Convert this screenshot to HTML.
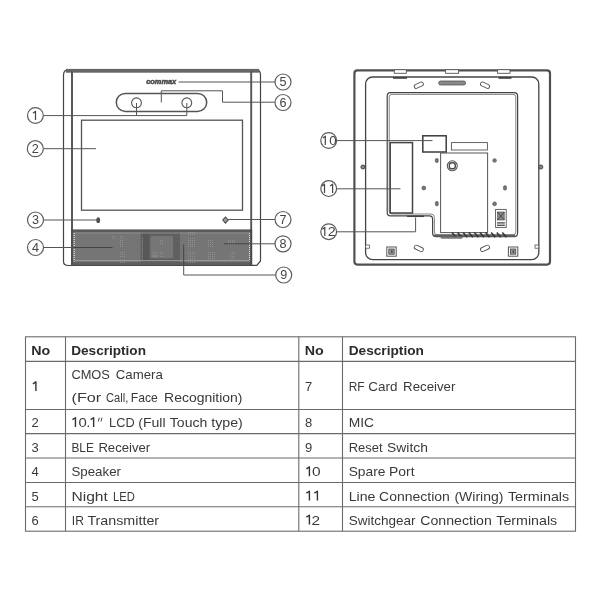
<!DOCTYPE html>
<html><head><meta charset="utf-8">
<style>
html,body{margin:0;padding:0;background:#fff;}
body{width:600px;height:600px;overflow:hidden;font-family:"Liberation Sans",sans-serif;}
svg{display:block;will-change:transform;opacity:.999;}
text{font-family:"Liberation Sans",sans-serif;fill:#333;}
.l{stroke:#555;stroke-width:1;fill:none;}
.d{stroke:#444;stroke-width:1.2;fill:none;}
.lab circle{fill:#fff;stroke:#5c5c5c;stroke-width:1.2;}
.lab text{font-size:12.6px;fill:#444;text-anchor:middle;}
.t{font-size:13px;fill:#3a3a3a;}
.b{font-size:13px;font-weight:bold;fill:#2b2b2b;}
.g{stroke:#6b6b6b;stroke-width:1.1;fill:none;}
</style></head><body>
<svg width="600" height="600" viewBox="0 0 600 600">
<rect width="600" height="600" fill="#fff"/>

<!-- ================= FRONT VIEW ================= -->
<g id="front">
  <!-- outer body -->
  <path class="d" d="M63.500,75 Q63.500,69.6 69,69.6 L256,69.6 Q260.500,69.6 260.500,75 L260.500,261 L256.8,265.300 L68.500,265.500 Q63.500,265.500 63.500,261.500 Z"/>
  <!-- thick top bar -->
  <rect x="66" y="68.9" width="193" height="3.8" fill="#666"/>
  <!-- inner side lines -->
  <line class="d" x1="72" y1="71" x2="72" y2="265" style="stroke-width:2;stroke:#585858"/>
  <line class="d" x1="251.2" y1="71" x2="251.2" y2="265" style="stroke-width:1.9;stroke:#555"/>
  <!-- logo -->
  <text x="146.200" y="84.4" textLength="30" lengthAdjust="spacingAndGlyphs" style="font-size:6.8px;font-weight:bold;font-style:italic;fill:#4a4a4a;stroke:#4a4a4a;stroke-width:.5">commax</text>
  <!-- camera pill -->
  <rect class="d" x="116.3" y="93.4" width="90.4" height="18" rx="9" style="stroke-width:1.5;stroke:#555"/>
  <circle class="l" cx="136.500" cy="102.8" r="4.9" style="stroke-width:1.1"/>
  <circle class="l" cx="186.8" cy="102.8" r="4.9" style="stroke-width:1.1"/>
  <!-- LCD -->
  <rect class="l" x="81.5" y="120.2" width="161" height="90" style="stroke-width:1.3"/>
  <!-- BLE dot / RF diamond -->
  <ellipse cx="98.2" cy="220.2" rx="1.9" ry="2.9" fill="#505050"/>
  <path d="M225.500,217 L228.2,220 L225.500,223.2 L222.8,220 Z" fill="#9a9a9a" stroke="#4a4a4a" stroke-width="1.1"/>
  <!-- speaker grille -->
  <rect x="72" y="229.6" width="179.3" height="35.4" fill="#757575"/>
  <rect x="72" y="229.6" width="179.3" height="2.6" fill="#5a5a5a"/>
  <rect x="72" y="262.2" width="179.3" height="3" fill="#5e5e5e"/>
  <rect x="140.6" y="232" width="39.4" height="30.4" fill="#606060"/>
  <rect x="150.500" y="236" width="22.500" height="22.2" rx="1.5" fill="#767676"/><rect x="152" y="252.500" width="6" height="1" fill="#8a8a8a"/><rect x="152" y="255" width="6" height="2" fill="#858585"/>
  <rect x="143" y="233.6" width="6" height="27" fill="#585858"/>
  <line x1="74.2" y1="233" x2="74.2" y2="261.500" stroke="#f0f0f0" stroke-width="1.1" stroke-dasharray="1.1 0.9"/>
  <line x1="249.500" y1="233" x2="249.500" y2="261" stroke="#e4e4e4" stroke-width="1" stroke-dasharray="1.1 0.9"/>
  <line x1="75" y1="233" x2="249" y2="233" stroke="#909090" stroke-width="0.9"/>
  <line x1="75" y1="260.6" x2="249" y2="260.6" stroke="#a2a2a2" stroke-width="0.9"/>
  <!-- moire patches -->
  <defs><pattern id="dots" width="2" height="2" patternUnits="userSpaceOnUse"><rect width="1" height="1" fill="#a4a4a4"/></pattern></defs>
  <g fill="url(#dots)" opacity=".55">
    <rect x="120" y="236" width="4" height="12"/>
    <rect x="120" y="252" width="6" height="6"/>
    <rect x="112" y="236" width="4" height="4"/>
    <rect x="120" y="260" width="6" height="4"/>
    <rect x="188" y="232" width="8" height="4"/>
    <rect x="188" y="238" width="8" height="10"/>
    <rect x="188" y="252" width="8" height="8"/>
    <rect x="188" y="260" width="8" height="4"/>
    <rect x="208" y="240" width="6" height="8"/>
    <rect x="208" y="252" width="8" height="8"/>
    <rect x="228" y="240" width="8" height="6"/>
    <rect x="230" y="252" width="6" height="8"/>
    <rect x="160" y="240" width="4" height="6"/>
    <rect x="160" y="252" width="4" height="6"/>
    <rect x="142" y="238" width="2" height="22"/>
  </g>

  <line x1="72" y1="229" x2="72" y2="265" stroke="#4c4c4c" stroke-width="1.8"/>
  <line x1="251.2" y1="229" x2="251.2" y2="265" stroke="#484848" stroke-width="1.8"/>
  <!-- leader lines -->
  <polyline class="l" points="43.5,115.6 186.8,115.6 186.8,103"/>
  <line class="l" x1="136.500" y1="103" x2="136.500" y2="115.6"/>
  <line class="l" x1="43.5" y1="148.7" x2="96" y2="148.7"/>
  <line class="l" x1="43.5" y1="220" x2="97" y2="220"/>
  <line class="l" x1="43.5" y1="247.500" x2="73" y2="247.500"/><line class="l" x1="73" y1="247.500" x2="112.500" y2="247.500" style="stroke:#444"/>
  <line class="l" x1="178.500" y1="82" x2="275" y2="82"/>
  <polyline class="l" points="275,102.2 222.5,102.2 222.5,90.8 161.3,90.8 161.3,102.4"/>
  <line class="l" x1="228" y1="219.5" x2="275" y2="219.5"/>
  <line class="l" x1="250" y1="243.8" x2="275" y2="243.8"/><line class="l" x1="224" y1="243.8" x2="250" y2="243.8" style="stroke:#444"/>
  <polyline class="l" points="275.500,275 183.7,275 183.7,265"/><line class="l" x1="183.7" y1="265" x2="183.7" y2="244.500" style="stroke:#444"/>

  <!-- labels -->
  <g class="lab">
    <circle cx="35.4" cy="115.500" r="7.9"/><path d="M33.00,113.20 L35.50,111.35 V119.90" fill="none" stroke="#444" stroke-width="1.2" stroke-linejoin="round"/>
    <circle cx="35.3" cy="148.7" r="8"/><text x="35.3" y="152.8">2</text>
    <circle cx="35.5" cy="220" r="8"/><text x="35.5" y="224.1">3</text>
    <circle cx="35.5" cy="247.5" r="8"/><text x="35.5" y="251.6">4</text>
    <circle cx="283" cy="82" r="8"/><text x="283" y="86.1">5</text>
    <circle cx="283" cy="102.5" r="8"/><text x="283" y="106.6">6</text>
    <circle cx="283" cy="219.5" r="8"/><text x="283" y="223.6">7</text>
    <circle cx="283" cy="243.8" r="8"/><text x="283" y="247.9">8</text>
    <circle cx="283.7" cy="275" r="8"/><text x="283.7" y="279.1">9</text>
  </g>
</g>

<!-- ================= BACK VIEW ================= -->
<g id="back">
  <!-- outer body -->
  <rect class="d" x="354.4" y="70.4" width="195.6" height="194.2" rx="3" style="stroke-width:2.2;stroke:#505050"/>
  <!-- second frame -->
  <rect class="l" x="365.6" y="77" width="173.2" height="182.6" rx="7" style="stroke-width:1.3;stroke:#444"/>
  <!-- top tabs -->
  <g fill="#fff" stroke="#555" stroke-width="0.9">
    <rect x="394.3" y="69.7" width="12" height="3.6"/>
    <rect x="445.6" y="69.7" width="13" height="3.6"/>
    <rect x="497.6" y="69.7" width="12.4" height="3.6"/>
  </g>
  <rect x="393" y="77" width="14" height="1.8" fill="#444"/>
  <rect x="498.5" y="77" width="13" height="1.8" fill="#444"/>
  <!-- slot -->
  <rect x="438.6" y="81" width="27" height="4" rx="2" fill="#888" stroke="#555" stroke-width="0.8"/>
  <!-- oval holes -->
  <g fill="#fff" stroke="#555" stroke-width="0.9">
    <rect x="414" y="83.2" width="9.6" height="4" rx="2" transform="rotate(-25 418.8 85.2)"/>
    <rect x="480.2" y="83.2" width="9.6" height="4" rx="2" transform="rotate(25 485 85.2)"/>
    <rect x="414" y="246.4" width="9.6" height="4" rx="2" transform="rotate(25 418.8 248.4)"/>
    <rect x="480.2" y="246.4" width="9.6" height="4" rx="2" transform="rotate(-25 485 248.4)"/>
  </g>
  <!-- inner recess (double line) -->
  <path class="l" d="M387.2,96 Q387.2,92.6 390.6,92.6 L514,92.6 Q517.6,92.6 517.6,96 L517.6,233 Q517.6,236.6 514,236.6 L436,236.6 Q432.6,236.6 432.6,233 L432.6,219 Q432.6,215.8 429.5,215.8 L390.5,215.8 Q387.2,215.8 387.2,212.5 Z" style="stroke-width:1.2;stroke:#444"/>
  <path class="l" d="M389.2,97 Q389.2,94.4 392,94.4 L513,94.4 Q515.8,94.4 515.8,97 L515.8,232 Q515.8,234.8 513,234.8 L437,234.8 Q434.4,234.8 434.4,232 L434.4,217.6 Q434.4,214 431,214 L392,214 Q389.2,214 389.2,211 Z" style="stroke-width:0.9;stroke:#777"/>
  <!-- terminal block 11 -->
  <rect x="390.2" y="142.6" width="22.3" height="70.4" fill="#fff" stroke="#444" stroke-width="1.5"/>
  <line x1="407" y1="216.3" x2="424" y2="216.3" stroke="#444" stroke-width="1.5"/>
  <!-- box 10 -->
  <rect x="422.8" y="135.8" width="23.4" height="16.2" fill="#fff" stroke="#3c3c3c" stroke-width="1.5"/>
  <!-- small rect -->
  <rect class="l" x="451.4" y="142.6" width="36" height="7.4" style="stroke-width:0.9"/>
  <!-- main plate -->
  <rect x="440.6" y="153" width="47" height="79.6" fill="#fff" stroke="#555" stroke-width="1"/>
  <circle class="l" cx="452.3" cy="165.8" r="5" style="stroke-width:1.1"/>
  <rect class="l" x="449.3" y="162.8" width="6" height="6" rx="2.4" style="stroke-width:1.4;stroke:#4a4a4a"/>
  <!-- screws -->
  <g fill="#777" stroke="#555" stroke-width="0.7">
    <rect x="435.4" y="158.6" width="2.8" height="3.8" rx="1"/>
    <circle cx="494.6" cy="160.5" r="1.8"/>
    <circle cx="423.8" cy="188" r="1.9"/>
    <rect x="503.6" y="185.8" width="2.8" height="4.2" rx="1"/>
    <rect x="435.4" y="201.6" width="2.8" height="4.2" rx="1"/>
    <circle cx="494.6" cy="203.8" r="1.9"/>
    <circle cx="362.9" cy="167" r="2" fill="#8a8a8a" stroke="#444" stroke-width="1"/>
    <circle cx="540.8" cy="167" r="2" fill="#8a8a8a" stroke="#444" stroke-width="1"/>
  </g>
  <!-- sticker -->
  <rect x="495.6" y="209.4" width="10.6" height="18" fill="#fff" stroke="#555" stroke-width="0.9"/>
  <rect x="497.6" y="212" width="6.6" height="8" fill="#888" stroke="#444" stroke-width="0.6"/>
  <line x1="497.4" y1="212" x2="504.4" y2="220" stroke="#333" stroke-width="0.7"/>
  <line x1="504.4" y1="212" x2="497.4" y2="220" stroke="#333" stroke-width="0.7"/>
  <rect x="497" y="222.2" width="7.8" height="1.4" fill="#555"/>
  <rect x="497" y="224.6" width="7.8" height="1.4" fill="#555"/>
  <!-- vents -->
  <line x1="434" y1="235.7" x2="515" y2="235.7" stroke="#606060" stroke-width="2.2"/>
  <g stroke="#333" stroke-width="1.5">
    <line x1="452.0" y1="232.6" x2="456.0" y2="237.2"/><line x1="457.6" y1="232.6" x2="461.6" y2="237.2"/><line x1="463.2" y1="232.6" x2="467.2" y2="237.2"/><line x1="468.8" y1="232.6" x2="472.8" y2="237.2"/><line x1="474.4" y1="232.6" x2="478.4" y2="237.2"/><line x1="480.0" y1="232.6" x2="484.0" y2="237.2"/><line x1="485.6" y1="232.6" x2="489.6" y2="237.2"/><line x1="491.2" y1="232.6" x2="495.2" y2="237.2"/><line x1="496.8" y1="232.6" x2="500.8" y2="237.2"/><line x1="502.4" y1="232.6" x2="506.4" y2="237.2"/>
  </g>
  <rect x="440.6" y="236.6" width="22" height="2.2" rx="1" fill="#777"/>
  <!-- bottom connectors -->
  <rect x="386.8" y="247" width="9.4" height="9.2" fill="#fff" stroke="#555" stroke-width="1"/>
  <rect x="388.8" y="249" width="5.4" height="5.2" fill="#999" stroke="#444" stroke-width="0.8"/><rect x="391" y="250.4" width="1.6" height="2.4" fill="#444"/>
  <rect x="508.4" y="247" width="9.4" height="9.2" fill="#fff" stroke="#555" stroke-width="1"/>
  <rect x="510.4" y="249" width="5.4" height="5.2" fill="#999" stroke="#444" stroke-width="0.8"/><rect x="512.6" y="250.4" width="1.6" height="2.4" fill="#444"/>
  <rect x="365.6" y="245" width="3.8" height="3.2" fill="#fff" stroke="#555" stroke-width="0.8"/>
  <rect x="535" y="245" width="3.8" height="3.2" fill="#fff" stroke="#555" stroke-width="0.8"/>

  <!-- leader lines -->
  <line class="l" x1="337" y1="140.6" x2="432.5" y2="140.6"/>
  <line class="l" x1="337" y1="188.8" x2="400.5" y2="188.8"/>
  <polyline class="l" points="337,231.8 415.6,231.8 415.6,217.5"/>
  <g class="lab">
    <circle cx="328.7" cy="140.500" r="7.9"/><path d="M322.80,138.10 L325.30,136.25 V144.90" fill="none" stroke="#444" stroke-width="1.2" stroke-linejoin="round"/><text x="333" y="144.9" textLength="7.4" lengthAdjust="spacingAndGlyphs">0</text>
    <circle cx="328.7" cy="188.6" r="7.9"/><path d="M322.00,186.10 L324.50,184.25 V192.90" fill="none" stroke="#444" stroke-width="1.2" stroke-linejoin="round"/><path d="M330.10,186.10 L332.60,184.25 V192.90" fill="none" stroke="#444" stroke-width="1.2" stroke-linejoin="round"/>
    <circle cx="328.7" cy="231.7" r="7.9"/><path d="M322.30,229.30 L324.80,227.45 V236.10" fill="none" stroke="#444" stroke-width="1.2" stroke-linejoin="round"/><text x="331.8" y="236.1" textLength="8" lengthAdjust="spacingAndGlyphs">2</text>
  </g>
</g>

<!-- ================= TABLE ================= -->
<g id="table">
  <rect class="g" x="25.5" y="336.8" width="550" height="194.4"/>
  <g class="g">
    <line x1="25.5" y1="361.4" x2="575.5" y2="361.4"/>
    <line x1="25.5" y1="409.5" x2="575.5" y2="409.5"/>
    <line x1="25.5" y1="433.6" x2="575.5" y2="433.6"/>
    <line x1="25.5" y1="458" x2="575.5" y2="458"/>
    <line x1="25.5" y1="482.5" x2="575.5" y2="482.5"/>
    <line x1="25.5" y1="506.8" x2="575.5" y2="506.8"/>
    <line x1="65.5" y1="336.8" x2="65.5" y2="531.2"/>
    <line x1="298.8" y1="336.8" x2="298.8" y2="531.2"/>
    <line x1="342.5" y1="336.8" x2="342.5" y2="531.2"/>
  </g>
  <text class="b" x="31.2" y="354.6" textLength="19" lengthAdjust="spacingAndGlyphs">No</text>
  <text class="b" x="71.2" y="354.6" textLength="74.8" lengthAdjust="spacingAndGlyphs">Description</text>
  <text class="b" x="304.7" y="354.6" textLength="19" lengthAdjust="spacingAndGlyphs">No</text>
  <text class="b" x="348.7" y="354.6" textLength="75.2" lengthAdjust="spacingAndGlyphs">Description</text>

  <text class="t" x="71.4" y="379.3" textLength="38.5" lengthAdjust="spacingAndGlyphs">CMOS</text>
  <text class="t" x="115.8" y="379.3" textLength="47.1" lengthAdjust="spacingAndGlyphs">Camera</text>
  <text class="t" x="71.5" y="402.4" textLength="29.8" lengthAdjust="spacingAndGlyphs">(For</text>
  <text class="t" x="106.1" y="402.4" textLength="22.2" lengthAdjust="spacingAndGlyphs">Call,</text>
  <text class="t" x="130.8" y="402.4" textLength="27.1" lengthAdjust="spacingAndGlyphs">Face</text>
  <text class="t" x="164.1" y="402.4" textLength="78.4" lengthAdjust="spacingAndGlyphs">Recognition)</text>
  <path d="M72.45,419.70 L75.45,417.75 V427.00" fill="none" stroke="#333" stroke-width="1.4" stroke-linejoin="round"/><text class="t" x="78.6" y="427.0" textLength="8.3" lengthAdjust="spacingAndGlyphs">0</text><rect x="87.6" y="425.6" width="1.4" height="1.4" fill="#333"/><path d="M90.65,419.70 L93.65,417.75 V427.00" fill="none" stroke="#333" stroke-width="1.4" stroke-linejoin="round"/><path d="M99.3,417.7 L98.3,421.500 M102,417.7 L101,421.500" stroke="#444" stroke-width="1" fill="none"/>
  <text class="t" x="109.1" y="427.0" textLength="25.5" lengthAdjust="spacingAndGlyphs">LCD</text>
  <text class="t" x="138.2" y="427.0" textLength="27.4" lengthAdjust="spacingAndGlyphs">(Full</text>
  <text class="t" x="169.8" y="427.0" textLength="37.5" lengthAdjust="spacingAndGlyphs">Touch</text>
  <text class="t" x="211.2" y="427.0" textLength="31.6" lengthAdjust="spacingAndGlyphs">type)</text>
  <text class="t" x="348.7" y="427.0" textLength="25.3" lengthAdjust="spacingAndGlyphs">MIC</text>
  <text class="t" x="71.4" y="451.7" textLength="22.5" lengthAdjust="spacingAndGlyphs">BLE</text>
  <text class="t" x="98.4" y="451.7" textLength="51.8" lengthAdjust="spacingAndGlyphs">Receiver</text>
  <text class="t" x="348.7" y="451.7" textLength="33.9" lengthAdjust="spacingAndGlyphs">Reset</text>
  <text class="t" x="387.1" y="451.7" textLength="40.8" lengthAdjust="spacingAndGlyphs">Switch</text>
  <text class="t" x="71.4" y="476.2" textLength="49.6" lengthAdjust="spacingAndGlyphs">Speaker</text>
  <text class="t" x="348.7" y="476.2" textLength="36.7" lengthAdjust="spacingAndGlyphs">Spare</text>
  <text class="t" x="389.1" y="476.2" textLength="25.5" lengthAdjust="spacingAndGlyphs">Port</text>
  <text class="t" x="71.4" y="500.5" textLength="36.5" lengthAdjust="spacingAndGlyphs">Night</text>
  <text class="t" x="113.1" y="500.5" textLength="21.8" lengthAdjust="spacingAndGlyphs">LED</text>
  <text class="t" x="348.7" y="500.5" textLength="26.7" lengthAdjust="spacingAndGlyphs">Line</text>
  <text class="t" x="379.1" y="500.5" textLength="70.7" lengthAdjust="spacingAndGlyphs">Connection</text>
  <text class="t" x="454.4" y="500.5" textLength="49.0" lengthAdjust="spacingAndGlyphs">(Wiring)</text>
  <text class="t" x="507.9" y="500.5" textLength="61.3" lengthAdjust="spacingAndGlyphs">Terminals</text>
  <text class="t" x="71.8" y="524.5" textLength="12.1" lengthAdjust="spacingAndGlyphs">IR</text>
  <text class="t" x="87.4" y="524.5" textLength="71.7" lengthAdjust="spacingAndGlyphs">Transmitter</text>
  <text class="t" x="348.7" y="524.5" textLength="66.7" lengthAdjust="spacingAndGlyphs">Switchgear</text>
  <text class="t" x="420.3" y="524.5" textLength="71.5" lengthAdjust="spacingAndGlyphs">Connection</text>
  <text class="t" x="496.3" y="524.5" textLength="60.9" lengthAdjust="spacingAndGlyphs">Terminals</text>
  <text class="t" x="348.7" y="391.1" textLength="15.9" lengthAdjust="spacingAndGlyphs">RF</text>
  <text class="t" x="368.3" y="391.1" textLength="29.1" lengthAdjust="spacingAndGlyphs">Card</text>
  <text class="t" x="403.1" y="391.1" textLength="52.3" lengthAdjust="spacingAndGlyphs">Receiver</text>
  <path d="M32.90,383.80 L35.90,381.85 V391.10" fill="none" stroke="#333" stroke-width="1.4" stroke-linejoin="round"/>
  <text class="t" x="31.4" y="427.0">2</text>
  <text class="t" x="31.4" y="451.7">3</text>
  <text class="t" x="31.4" y="476.2">4</text>
  <text class="t" x="31.4" y="500.5">5</text>
  <text class="t" x="31.4" y="524.5">6</text>
  <text class="t" x="304.9" y="391.1">7</text>
  <text class="t" x="304.9" y="427.0">8</text>
  <text class="t" x="304.9" y="451.7">9</text>
  <path d="M306.40,468.90 L309.40,466.95 V476.20" fill="none" stroke="#333" stroke-width="1.4" stroke-linejoin="round"/><text class="t" x="311.9" y="476.2" textLength="8.6" lengthAdjust="spacingAndGlyphs">0</text>
  <path d="M306.40,493.20 L309.40,491.25 V500.50" fill="none" stroke="#333" stroke-width="1.4" stroke-linejoin="round"/><path d="M314.40,493.20 L317.40,491.25 V500.50" fill="none" stroke="#333" stroke-width="1.4" stroke-linejoin="round"/>
  <path d="M306.40,517.20 L309.40,515.25 V524.50" fill="none" stroke="#333" stroke-width="1.4" stroke-linejoin="round"/><text class="t" x="311.4" y="524.5" textLength="8.6" lengthAdjust="spacingAndGlyphs">2</text>
</g>
</svg>
</body></html>
